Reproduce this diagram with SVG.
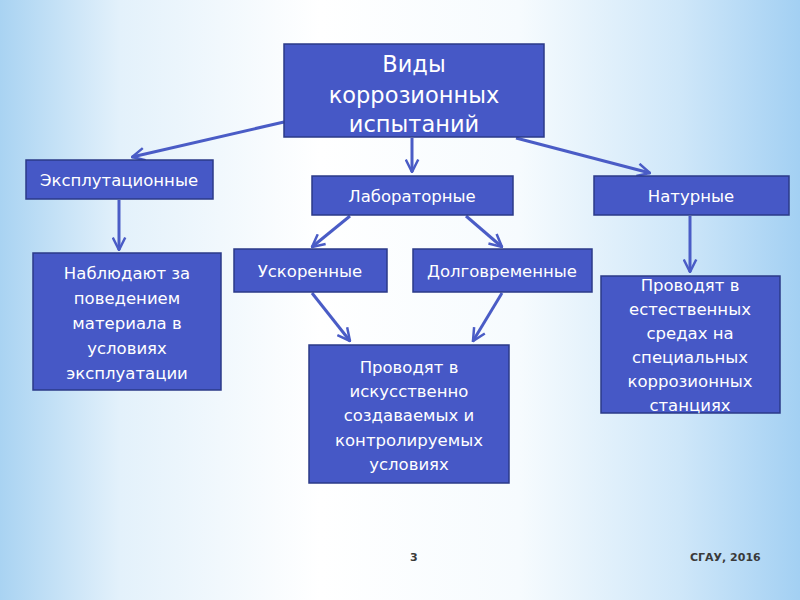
<svg xmlns="http://www.w3.org/2000/svg" width="800" height="600" viewBox="0 0 800 600">
<defs>
<linearGradient id="bg" x1="0" y1="0" x2="1" y2="0">
<stop offset="0" stop-color="#a9d3f2"/>
<stop offset="0.15" stop-color="#e3f1fb"/>
<stop offset="0.4" stop-color="#ffffff"/>
<stop offset="0.65" stop-color="#f6fbfe"/>
<stop offset="0.85" stop-color="#cfe7f9"/>
<stop offset="1" stop-color="#a3d0f3"/>
</linearGradient>
<marker id="arr" viewBox="0 0 12 12" refX="11" refY="6" markerWidth="5" markerHeight="5" orient="auto" markerUnits="strokeWidth">
<path d="M1,1 L11,6 L1,11" fill="none" stroke="#4a5cc6" stroke-width="2"/>
</marker>
<style>
.box{fill:#4658c6;stroke:#2b3a88;stroke-width:1.5}
.t{fill:#ffffff;font-family:"DejaVu Sans","Noto Sans",sans-serif;font-size:16.5px;text-anchor:middle}
.tb{font-size:22.5px}
.c{fill:none;stroke:#4a5cc6;stroke-width:3;marker-end:url(#arr)}
.f{fill:#3a3a3a;font-family:"DejaVu Sans",sans-serif;font-size:11px;font-weight:bold}
</style>
</defs>
<rect width="800" height="600" fill="url(#bg)"/>
<g id="connectors">
<line class="c" x1="284" y1="122" x2="132" y2="157"/>
<line class="c" x1="412" y1="138" x2="412" y2="172"/>
<line class="c" x1="516" y1="138" x2="650" y2="173"/>
<line class="c" x1="119" y1="200" x2="119" y2="250"/>
<line class="c" x1="350" y1="216" x2="312" y2="247"/>
<line class="c" x1="466" y1="216" x2="502" y2="247"/>
<line class="c" x1="312" y1="293" x2="350" y2="341"/>
<line class="c" x1="502" y1="293" x2="473" y2="341"/>
<line class="c" x1="690" y1="216" x2="690" y2="272"/>
</g>
<g id="root">
<rect class="box" x="284" y="44" width="260" height="93"/>
<text class="t tb" x="414" y="72">Виды</text>
<text class="t tb" x="414" y="103">коррозионных</text>
<text class="t tb" x="414" y="132">испытаний</text>
</g>
<g id="expl">
<rect class="box" x="26" y="160" width="187" height="39"/>
<text class="t" x="119" y="186">Эксплутационные</text>
</g>
<g id="lab">
<rect class="box" x="312" y="176" width="201" height="39"/>
<text class="t" x="412" y="202">Лабораторные</text>
</g>
<g id="nat">
<rect class="box" x="594" y="176" width="195" height="39"/>
<text class="t" x="691" y="202">Натурные</text>
</g>
<g id="usk">
<rect class="box" x="234" y="249" width="153" height="43"/>
<text class="t" x="310" y="277">Ускоренные</text>
</g>
<g id="dolg">
<rect class="box" x="413" y="249" width="179" height="43"/>
<text class="t" x="502" y="277">Долговременные</text>
</g>
<g id="expl-desc">
<rect class="box" x="33" y="253" width="188" height="137"/>
<text class="t" x="127" y="279">Наблюдают за</text>
<text class="t" x="127" y="304">поведением</text>
<text class="t" x="127" y="329">материала в</text>
<text class="t" x="127" y="354">условиях</text>
<text class="t" x="127" y="379">эксплуатации</text>
</g>
<g id="lab-desc">
<rect class="box" x="309" y="345" width="200" height="138"/>
<text class="t" x="409" y="373">Проводят в</text>
<text class="t" x="409" y="397">искусственно</text>
<text class="t" x="409" y="421">создаваемых и</text>
<text class="t" x="409" y="446">контролируемых</text>
<text class="t" x="409" y="470">условиях</text>
</g>
<g id="nat-desc">
<rect class="box" x="601" y="276" width="179" height="137"/>
<text class="t" x="690" y="291">Проводят в</text>
<text class="t" x="690" y="315">естественных</text>
<text class="t" x="690" y="339">средах на</text>
<text class="t" x="690" y="363">специальных</text>
<text class="t" x="690" y="387">коррозионных</text>
<text class="t" x="690" y="411">станциях</text>
</g>
<text class="f" x="410" y="561">3</text>
<text class="f" x="690" y="561">СГАУ, 2016</text>
</svg>
